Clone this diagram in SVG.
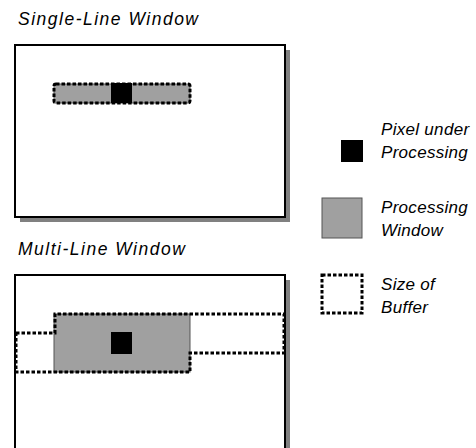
<svg xmlns="http://www.w3.org/2000/svg" width="476" height="448" viewBox="0 0 476 448">
<style>
text{font-family:"Liberation Sans",Arial,sans-serif;font-style:italic;fill:#000}
.title{font-size:17.5px;letter-spacing:1.5px}
.leg{font-size:17px;letter-spacing:0.3px}
.frame{fill:#fff;stroke:#000;stroke-width:2}
.shadow{fill:#808080}
.win{fill:#a0a0a0;stroke:#555;stroke-width:1}
.pix{fill:#000}
.buf{fill:none;stroke:#000;stroke-width:3;stroke-dasharray:3.5 2}
</style>
<rect width="476" height="448" fill="#fff"/>
<g id="single-line">
<text class="title" x="18" y="25">Single-Line Window</text>
<rect class="shadow" x="20" y="50" width="270" height="172"/>
<rect class="frame" x="15" y="45" width="270" height="172"/>
<rect class="win" x="54" y="84" width="136" height="19"/>
<rect class="pix" x="111" y="83" width="21" height="20"/>
<rect class="buf" x="54" y="84" width="136" height="19" rx="2"/>
</g>
<g id="multi-line">
<text class="title" x="18" y="255">Multi-Line Window</text>
<rect class="shadow" x="20" y="280" width="270" height="180"/>
<rect class="frame" x="15" y="275" width="270" height="185"/>
<rect class="win" x="54" y="314" width="136" height="58"/>
<rect class="pix" x="111" y="332" width="21" height="22"/>
<path class="buf" d="M16,333 H55 V314 H284 V353 H190 V372 H16 Z"/>
</g>
<g id="legend-pixel">
<rect class="pix" x="341" y="140" width="22" height="22"/>
<text class="leg" x="381" y="135">Pixel under</text>
<text class="leg" x="381" y="158">Processing</text>
</g>
<g id="legend-window">
<rect class="win" x="322" y="198" width="40" height="40"/>
<text class="leg" x="381" y="213">Processing</text>
<text class="leg" x="381" y="236">Window</text>
</g>
<g id="legend-buffer">
<rect class="buf" x="322" y="275" width="40" height="38"/>
<text class="leg" x="381" y="290">Size of</text>
<text class="leg" x="381" y="313">Buffer</text>
</g>
<g id="connectors"/>
</svg>
